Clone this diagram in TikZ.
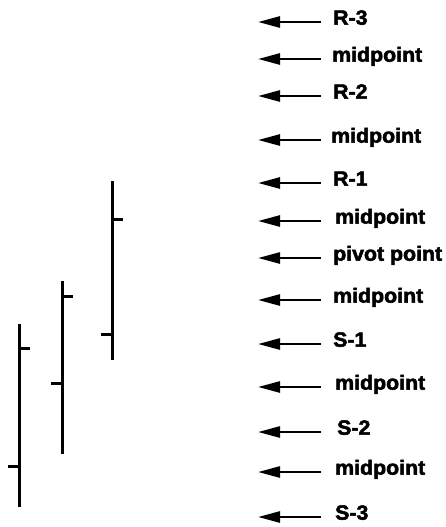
\documentclass[tikz,border=0pt]{standalone}
\usepackage{fontspec}
\setmainfont{Liberation Sans}
\newfontfamily\lvlfont[FakeStretch=1.04,BoldFeatures={FakeStretch=1.04,FakeBold=2.5}]{Liberation Sans}
\usetikzlibrary{arrows.meta}
\tikzset{
  lvl/.style={anchor=mid west,inner sep=0pt,font=\lvlfont\bfseries\fontsize{20.5}{21}\selectfont},
  ptr/.style={->,line width=2.6pt},
  bar/.style={line width=3pt}
}
\begin{document}
\begin{tikzpicture}[x=1pt,y=-1pt,>={Triangle[length=22pt,width=11pt]}]
            \useasboundingbox (0,0) rectangle (445,527);
            % price bars: x/high/low/open/close
            \foreach \bx/\hi/\lo/\op/\cl in {19/324/507/466/348, 62/281/454/383/296, 112/181/360/334/219}{
                \draw[bar] (\bx,\hi) -- (\bx,\lo);
                \draw[bar] (\bx-11,\op) -- (\bx,\op);
                \draw[bar] (\bx,\cl) -- (\bx+11,\cl);
            }
            % levels
            \foreach \yy/\xx/\nm/\txt in {22/333/r3/R-3, 59/332/m1/midpoint, 96/333/r2/R-2, 140/331/m2/midpoint,
                183/333/r1/R-1, 221/335/m3/midpoint, 258/333/pp/pivot point, 300/333/m4/midpoint,
                344/333/s1/S-1, 387/335/m5/midpoint, 432/337/s2/S-2, 472/335/m6/midpoint, 517/335/s3/S-3}{
                \node[lvl] (\nm) at (\xx,\yy) {\txt};
                \coordinate (t\nm) at (258,\yy);
                \draw[ptr] (321,\yy) coordinate (f\nm) -- (t\nm);
            }
        \end{tikzpicture}
\end{document}
